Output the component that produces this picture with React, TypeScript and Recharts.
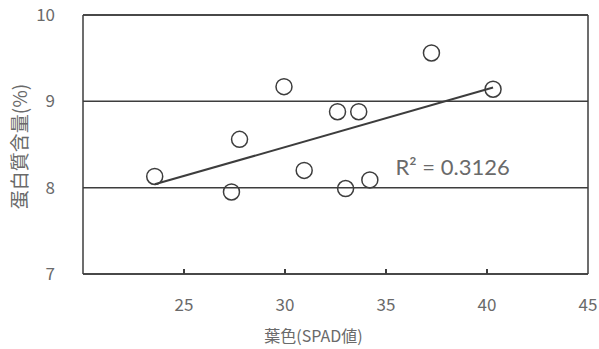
import { ScatterChart, Scatter, XAxis, YAxis, CartesianGrid, ReferenceLine, ReferenceDot, Label } from 'recharts'

const spad = [23.55, 27.35, 27.75, 29.95, 30.95, 32.6, 33.65, 33.0, 34.2, 37.25, 40.3]
const protein = [8.13, 7.95, 8.56, 9.17, 8.2, 8.88, 8.88, 7.99, 8.09, 9.56, 9.14]
const xTicks = [25, 30, 35, 40, 45]
const xMarkTicks = [25, 30, 35, 40]
const yTicks = [7, 8, 9, 10]
const r2Text = 'R² = 0.3126'

const points = spad.map((x, i) => ({ x, y: protein[i] }))
const tickMarks = xMarkTicks.map((x) => ({ x, y: 7 }))

// least squares trend, drawn from min to max x
function trend() {
  const n = spad.length
  const mx = spad.reduce((s, v) => s + v, 0) / n
  const my = protein.reduce((s, v) => s + v, 0) / n
  let sxy = 0
  let sxx = 0
  spad.forEach((x, i) => {
    sxy += (x - mx) * (protein[i] - my)
    sxx += (x - mx) * (x - mx)
  })
  const b = sxy / sxx
  const a = my - b * mx
  const x0 = Math.min(...spad)
  const x1 = Math.max(...spad)
  return [
    { x: x0, y: a + b * x0 },
    { x: x1, y: a + b * x1 },
  ]
}

const lineColor = '#3d3d3d'
const textColor = '#6a6a6a'
const jp = '"Noto Sans CJK JP", "Noto Sans", sans-serif'

function XTick({ x, y, payload }: { x?: number; y?: number; payload?: { value: number } }) {
  return (
    <text x={x} y={y! + 31} textAnchor="middle" fontSize={17} fill={textColor} fontFamily={jp}>
      {payload!.value}
    </text>
  )
}

function YTick({ x, y, payload }: { x?: number; y?: number; payload?: { value: number } }) {
  return (
    <text x={x! - 22} y={y! + 6} textAnchor="end" fontSize={17} fill={textColor} fontFamily={jp}>
      {payload!.value}
    </text>
  )
}

function Ring({ cx, cy }: { cx?: number; cy?: number }) {
  return <circle cx={cx} cy={cy} r={8} fill="none" stroke={lineColor} strokeWidth={1.5} />
}

// inward tick mark sitting on the x axis
function Mark({ cx, cy }: { cx?: number; cy?: number }) {
  return <line x1={cx} x2={cx} y1={cy} y2={cy! - 5} stroke={lineColor} strokeWidth={2} />
}

export default function App() {
  return (
    <div style={{ position: 'absolute', left: 0, top: 0, background: '#fff' }}>
      <ScatterChart width={599} height={349} margin={{ top: 15, right: 11, bottom: 0, left: 0 }}>
        <CartesianGrid vertical={false} stroke={lineColor} strokeWidth={1.5} />
        <XAxis
          type="number"
          dataKey="x"
          domain={[20, 45]}
          ticks={xTicks}
          height={75}
          tickLine={false}
          tickMargin={0}
          axisLine={{ stroke: lineColor, strokeWidth: 1.5 }}
          tick={<XTick />}
          interval={0}
        >
          <Label
            value="葉色(SPAD値)"
            position="insideBottom"
            offset={7}
            dx={-22}
            fontSize={16}
            fill={textColor}
            fontFamily={jp}
          />
        </XAxis>
        <YAxis
          type="number"
          dataKey="y"
          domain={[7, 10]}
          ticks={yTicks}
          width={83}
          tickLine={false}
          tickMargin={0}
          axisLine={{ stroke: lineColor, strokeWidth: 1.5 }}
          tick={<YTick />}
          interval={0}
        >
          <Label
            value="蛋白質含量(%)"
            position="insideLeft"
            angle={-90}
            offset={20}
            dy={2}
            fontSize={19}
            fill={textColor}
            fontFamily={jp}
            style={{ textAnchor: 'middle' }}
          />
        </YAxis>
        <ReferenceLine x={45} stroke={lineColor} strokeWidth={1.5} />
        <ReferenceLine y={10} stroke={lineColor} strokeWidth={1.5} />
        <Scatter data={tickMarks} shape={<Mark />} isAnimationActive={false} />
        <Scatter data={points} shape={<Ring />} isAnimationActive={false} />
        <Scatter
          data={trend()}
          line={{ stroke: lineColor, strokeWidth: 2 }}
          shape={() => <g />}
          isAnimationActive={false}
        />
        <ReferenceDot
          x={38.3}
          y={8.24}
          r={0}
          label={{ value: r2Text, position: 'center', fontSize: 22, fill: textColor, fontFamily: 'Lato, sans-serif' }}
        />
      </ScatterChart>
    </div>
  )
}
